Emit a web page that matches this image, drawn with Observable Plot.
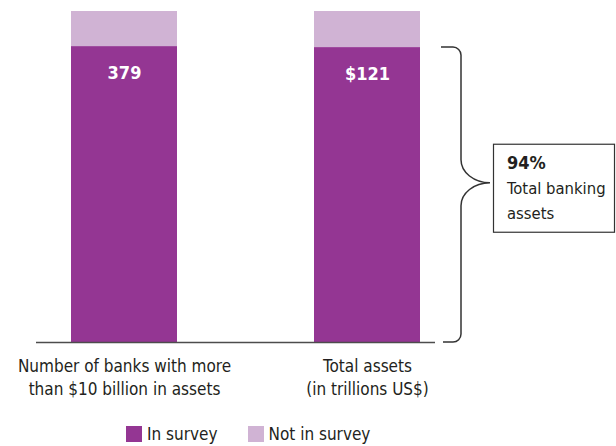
<!DOCTYPE html>
<html><head><meta charset="utf-8">
<script src="https://cdn.jsdelivr.net/npm/d3@7"></script>
<script src="https://cdn.jsdelivr.net/npm/@observablehq/plot@0.6"></script>
<style>
body{margin:0;background:#fff;font-family:"DejaVu Sans Condensed","Liberation Sans Narrow",sans-serif;}
#chart svg{display:block;font-family:"DejaVu Sans Condensed","Liberation Sans Narrow",sans-serif;}
#legend{display:flex;align-items:center;height:40px;padding-left:126px;font-size:17px;color:#231f20;}
#legend .item{display:flex;align-items:center;}
#legend .sw{width:16px;height:16px;margin-right:5px;}
</style></head><body><div id="chart"></div><div id="legend"></div><script>
const categories = ["Number of banks with more\nthan $10 billion in assets", "Total assets\n(in trillions US$)"];
const barLabels = ["379", "$121"];
const inSurvey = [89.4, 89.1];
const notInSurvey = [10.6, 10.9];
const seriesNames = ["In survey", "Not in survey"];
const seriesColors = ["#943693", "#d0b3d4"];
const annotationValue = "94%";
const annotationLines = ["Total banking", "assets"];

const rows = [];
categories.forEach((c, i) => {
  rows.push({category: c, series: seriesNames[0], value: inSurvey[i]});
  rows.push({category: c, series: seriesNames[1], value: notInSurvey[i]});
});
const labelRows = categories.map((c, i) => ({category: c, top: inSurvey[i], label: barLabels[i]}));
const ink = "#231f20";

function braceMark(index, scales, values, dimensions) {
  const x = scales.x, y = scales.y;
  const bw = x.bandwidth ? x.bandwidth() : 106;
  const right = x(categories[1]) + bw;
  const yTop = y(inSurvey[1]);
  const yBot = y(0);
  const x0 = right + 21, xv = right + 41, xt = right + 70, r = 8;
  const tipY = yTop + (yBot - yTop) * 0.46;
  const h = 23;
  const p = `M${x0},${yTop} H${xv - r} A${r},${r} 0 0 1 ${xv},${yTop + r} V${tipY - h}`
    + ` C${xv},${tipY - h + h * 0.55} ${xt - (xt - xv) * 0.55},${tipY} ${xt},${tipY}`
    + ` C${xt - (xt - xv) * 0.55},${tipY} ${xv},${tipY + h - h * 0.55} ${xv},${tipY + h}`
    + ` V${yBot - r} A${r},${r} 0 0 1 ${xv - r},${yBot} H${x0 + 2}`;
  const g = d3.create("svg:g");
  g.append("path").attr("d", p).attr("fill", "none").attr("stroke", "#333").attr("stroke-width", 1.5);
  const bx = xt + 3, by = tipY - 39;
  g.append("rect").attr("x", bx + 0.5).attr("y", by + 0.5).attr("width", 121).attr("height", 88)
    .attr("fill", "white").attr("stroke", "#333").attr("stroke-width", 1.2);
  const t = g.append("text").attr("fill", ink).attr("font-size", 16.5).attr("text-anchor", "start");
  t.append("tspan").attr("x", bx + 14).attr("y", by + 25).attr("font-weight", "bold").attr("font-size", 18).text(annotationValue);
  annotationLines.forEach((l, i) => t.append("tspan").attr("x", bx + 14).attr("y", by + 50 + i * 25).text(l));
  return g.node();
}

const plot = Plot.plot({
  width: 616,
  height: 414,
  marginLeft: 2.5,
  marginRight: 127.5,
  marginTop: 11,
  marginBottom: 72,
  x: {domain: categories, paddingInner: 0.564, paddingOuter: 0.282, axis: null},
  y: {domain: [0, 100], axis: null},
  color: {domain: seriesNames, range: seriesColors},
  marks: [
    Plot.barY(rows, {x: "category", y: "value", fill: "series"}),
    Plot.ruleY([0], {stroke: "#4d4d4d", strokeWidth: 1.5, insetLeft: 33.5, insetRight: 53.5}),
    Plot.text(labelRows, {x: "category", y: "top", text: "label", dy: 27, fill: "white", fontWeight: "bold", fontSize: 18}),
    Plot.text(categories, {x: d => d, y: 0, text: d => d, lineAnchor: "top", dy: 13, fontSize: 17, lineHeight: 1.35, fill: ink}),
    braceMark
  ]
});
document.getElementById("chart").appendChild(plot);

const legend = document.getElementById("legend");
seriesNames.forEach((n, i) => {
  const item = document.createElement("div");
  item.className = "item";
  if (i > 0) item.style.marginLeft = "30px";
  const sw = document.createElement("div");
  sw.className = "sw";
  sw.style.background = seriesColors[i];
  const tx = document.createElement("span");
  tx.textContent = n;
  item.appendChild(sw); item.appendChild(tx);
  legend.appendChild(item);
});
</script></body></html>
